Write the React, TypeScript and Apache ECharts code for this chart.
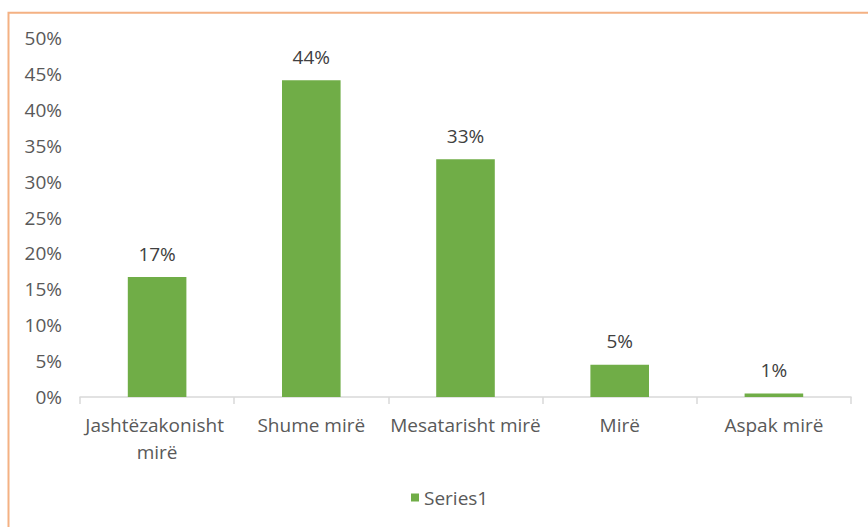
import React, { useEffect, useRef } from "react";
import * as echarts from "echarts";

const categories = ["Jashtëzakonisht mirë", "Shume mirë", "Mesatarisht mirë", "Mirë", "Aspak mirë"];
const values = [0.167, 0.441, 0.331, 0.045, 0.005];
const seriesName = "Series1";

const FONT = "'Open Sans', sans-serif";
const FS = 19;

export default function App() {
  const ref = useRef<HTMLDivElement>(null);
  useEffect(() => {
    if (!ref.current) return;
    const chart = echarts.init(ref.current, undefined, { renderer: "svg" });
    chart.setOption({
      animation: false,
      backgroundColor: "#ffffff",
      textStyle: { fontFamily: FONT },
      graphic: [
        {
          type: "rect",
          shape: { x: 8.5, y: 12.7, width: 1000, height: 1000 },
          style: { fill: "none", stroke: "#F4B183", lineWidth: 2 },
          silent: true,
        },
      ],
      grid: { left: 80, right: 17, top: 38, bottom: 130, containLabel: false },
      legend: {
        show: true,
        bottom: 15,
        left: 406,
        icon: "rect",
        itemWidth: 8,
        itemHeight: 8,
        itemGap: 6,
        textStyle: { color: "#595959", fontSize: FS, fontFamily: FONT },
        data: [seriesName],
      },
      xAxis: {
        type: "category",
        data: categories,
        axisLine: { show: true, lineStyle: { color: "#d9d9d9", width: 1.5 } },
        axisTick: { show: true, alignWithLabel: false, length: 7, lineStyle: { color: "#d9d9d9", width: 1.5 } },
        axisLabel: {
          interval: 0,
          color: "#595959",
          fontSize: FS,
          fontFamily: FONT,
          margin: 14,
          lineHeight: 27,
          width: 172,
          overflow: "break",
        },
      },
      yAxis: {
        type: "value",
        min: 0,
        max: 0.5,
        interval: 0.05,
        axisLine: { show: false },
        axisTick: { show: false },
        splitLine: { show: false },
        axisLabel: {
          color: "#595959",
          fontSize: FS,
          fontFamily: FONT,
          margin: 18,
          formatter: (v: number) => `${Math.round(v * 100)}%`,
        },
      },
      series: [
        {
          name: seriesName,
          type: "bar",
          data: values,
          barWidth: "38%",
          itemStyle: { color: "#70AD47" },
          label: {
            show: true,
            position: "top",
            distance: 14,
            color: "#404040",
            fontSize: FS,
            fontFamily: FONT,
            formatter: (p: any) => `${Math.round(p.value * 100)}%`,
          },
        },
      ],
    });
    return () => chart.dispose();
  }, []);
  return (
    <div
      ref={ref}
      style={{ position: "fixed", left: 0, top: 0, width: 868, height: 527 }}
    />
  );
}
